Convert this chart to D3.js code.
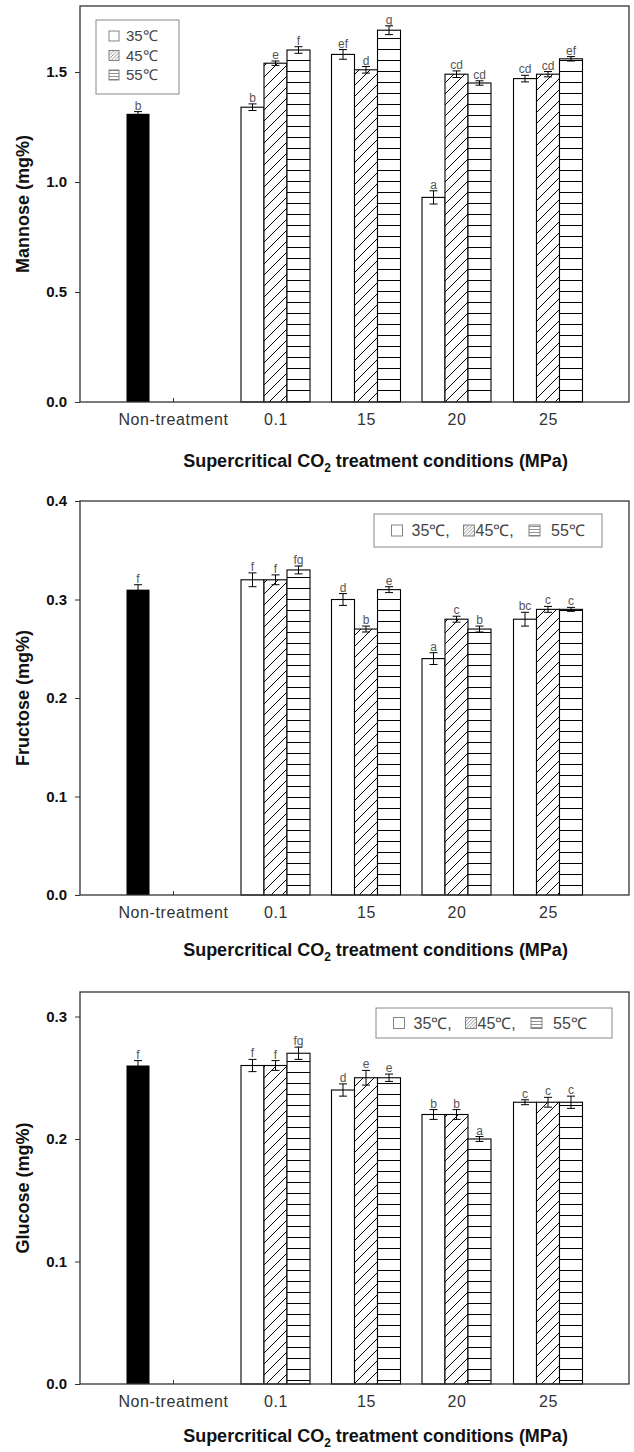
<!DOCTYPE html>
<html>
<head>
<meta charset="utf-8">
<title>Supercritical CO2 - sugar contents</title>
<script src="https://d3js.org/d3.v7.min.js"></script>
<style>
body{ margin:0; background:#fff; }
svg{ display:block; font-family:"Liberation Sans", Arial, sans-serif; }
.y-axis text{ font-size:15px; font-weight:bold; fill:#111; }
.x-axis text{ font-size:16px; fill:#333; letter-spacing:0.6px; }
.axis-title{ font-size:18px; font-weight:bold; fill:#111; }
.letter{ font-size:12px; fill:#555; text-anchor:middle; }
.legend text{ font-size:15px; fill:#444; }
</style>
</head>
<body>
<svg id="chart" width="634" height="1452"></svg>
<script>
// ---- data ----
var categories = ["Non-treatment", "0.1", "15", "20", "25"];
var treatments = ["0.1", "15", "20", "25"];
var series = ["35℃", "45℃", "55℃"];

// Mannose (mg%)
var mannoseCtrl = 1.31, mannoseCtrlErr = 0.01, mannoseCtrlLetter = "b";
var mannose35 = [1.34, 1.58, 0.93, 1.47];
var mannose45 = [1.54, 1.51, 1.49, 1.49];
var mannose55 = [1.60, 1.69, 1.45, 1.56];
var mannoseErr35 = [0.015, 0.022, 0.03, 0.015];
var mannoseErr45 = [0.01, 0.015, 0.015, 0.012];
var mannoseErr55 = [0.015, 0.02, 0.01, 0.01];
var mannoseLet35 = ["b", "ef", "a", "cd"];
var mannoseLet45 = ["e", "d", "cd", "cd"];
var mannoseLet55 = ["f", "g", "cd", "ef"];

// Fructose (mg%)
var fructoseCtrl = 0.31, fructoseCtrlErr = 0.005, fructoseCtrlLetter = "f";
var fructose35 = [0.32, 0.30, 0.24, 0.28];
var fructose45 = [0.32, 0.27, 0.28, 0.29];
var fructose55 = [0.33, 0.31, 0.27, 0.29];
var fructoseErr35 = [0.007, 0.006, 0.006, 0.007];
var fructoseErr45 = [0.005, 0.003, 0.003, 0.003];
var fructoseErr55 = [0.004, 0.003, 0.003, 0.002];
var fructoseLet35 = ["f", "d", "a", "bc"];
var fructoseLet45 = ["f", "b", "c", "c"];
var fructoseLet55 = ["fg", "e", "b", "c"];

// Glucose (mg%)
var glucoseCtrl = 0.26, glucoseCtrlErr = 0.004, glucoseCtrlLetter = "f";
var glucose35 = [0.26, 0.24, 0.22, 0.23];
var glucose45 = [0.26, 0.25, 0.22, 0.23];
var glucose55 = [0.27, 0.25, 0.20, 0.23];
var glucoseErr35 = [0.005, 0.005, 0.004, 0.002];
var glucoseErr45 = [0.004, 0.006, 0.004, 0.004];
var glucoseErr55 = [0.005, 0.003, 0.002, 0.005];
var glucoseLet35 = ["f", "d", "b", "c"];
var glucoseLet45 = ["f", "e", "b", "c"];
var glucoseLet55 = ["fg", "e", "a", "c"];

var mannoseTicks = [0, 0.5, 1.0, 1.5];
var fructoseTicks = [0, 0.1, 0.2, 0.3, 0.4];
var glucoseTicks = [0, 0.1, 0.2, 0.3];

// ---- layout ----
var left = 80, right = 629;
var panels = [
  { title: "Mannose (mg%)", top: 6, bottom: 402, max: 1.8, ticks: mannoseTicks, legend: "stack", titleOff: 65,
    ctrl: mannoseCtrl, ctrlErr: mannoseCtrlErr, ctrlLetter: mannoseCtrlLetter,
    vals: [mannose35, mannose45, mannose55], errs: [mannoseErr35, mannoseErr45, mannoseErr55],
    lets: [mannoseLet35, mannoseLet45, mannoseLet55] },
  { title: "Fructose (mg%)", top: 501, bottom: 895, max: 0.4, ticks: fructoseTicks, legend: "inline", titleOff: 61,
    box: [374, 514, 228, 33],
    ctrl: fructoseCtrl, ctrlErr: fructoseCtrlErr, ctrlLetter: fructoseCtrlLetter,
    vals: [fructose35, fructose45, fructose55], errs: [fructoseErr35, fructoseErr45, fructoseErr55],
    lets: [fructoseLet35, fructoseLet45, fructoseLet55] },
  { title: "Glucose (mg%)", top: 992, bottom: 1384, max: 0.32, ticks: glucoseTicks, legend: "inline", titleOff: 58,
    box: [376, 1008, 236, 30],
    ctrl: glucoseCtrl, ctrlErr: glucoseCtrlErr, ctrlLetter: glucoseCtrlLetter,
    vals: [glucose35, glucose45, glucose55], errs: [glucoseErr35, glucoseErr45, glucoseErr55],
    lets: [glucoseLet35, glucoseLet45, glucoseLet55] }
];

var svg = d3.select("#chart");

// category positions on the x axis
var x = d3.scaleOrdinal().domain(categories).range([173, 275.5, 366, 456.5, 548]);
// bars inside a group
var sub = d3.scaleBand().domain(series).range([-34.5, 34.5]);
var fills = ["#fff", "url(#diag)", "url(#horiz)"];
var swatchFills = ["#fff", "url(#diagS)", "url(#horizS)"];

// hatch patterns
var defs = svg.append("defs");
var pd = defs.append("pattern").attr("id", "diag").attr("patternUnits", "userSpaceOnUse")
  .attr("width", 11).attr("height", 11);
pd.append("rect").attr("width", 11).attr("height", 11).attr("fill", "#fff");
pd.append("path").attr("d", "M-1,1 L1,-1 M0,11 L11,0 M10,12 L12,10")
  .attr("stroke", "#000").attr("stroke-width", 1);
var ph = defs.append("pattern").attr("id", "horiz").attr("patternUnits", "userSpaceOnUse")
  .attr("width", 11).attr("height", 11);
ph.append("rect").attr("width", 11).attr("height", 11).attr("fill", "#fff");
ph.append("path").attr("d", "M0,5.5 H11").attr("stroke", "#000").attr("stroke-width", 1);
var pds = defs.append("pattern").attr("id", "diagS").attr("patternUnits", "userSpaceOnUse")
  .attr("width", 3.5).attr("height", 3.5);
pds.append("rect").attr("width", 3.5).attr("height", 3.5).attr("fill", "#fff");
pds.append("path").attr("d", "M-1,1 L1,-1 M0,3.5 L3.5,0 M2.5,4.5 L4.5,2.5")
  .attr("stroke", "#777").attr("stroke-width", 0.8);
var phs = defs.append("pattern").attr("id", "horizS").attr("patternUnits", "userSpaceOnUse")
  .attr("width", 3).attr("height", 3);
phs.append("rect").attr("width", 3).attr("height", 3).attr("fill", "#fff");
phs.append("path").attr("d", "M0,1.5 H3").attr("stroke", "#777").attr("stroke-width", 0.8);

panels.forEach(function(p){
  var y = d3.scaleLinear().domain([0, p.max]).range([p.bottom, p.top]);
  var g = svg.append("g");

  // x ticks (inward) and labels
  var xAxis = d3.axisBottom(x).tickValues(categories).tickSize(-4).tickPadding(12);
  var xg = g.append("g").attr("class", "x-axis")
    .attr("transform", "translate(0," + p.bottom + ")").call(xAxis);
  xg.select(".domain").remove();
  xg.selectAll("line").attr("stroke", "#333");

  // bars
  var rows = [];
  treatments.forEach(function(t, i){
    series.forEach(function(s, k){
      rows.push({ cat: t, s: s, k: k, v: p.vals[k][i], e: p.errs[k][i], l: p.lets[k][i] });
    });
  });

  g.selectAll(".bar").data(rows).enter().append("rect")
    .attr("class", "bar")
    .attr("x", function(d){ return x(d.cat) + sub(d.s); })
    .attr("y", function(d){ return y(d.v); })
    .attr("width", sub.bandwidth())
    .attr("height", function(d){ return y(0) - y(d.v); })
    .attr("fill", function(d){ return fills[d.k]; })
    .attr("stroke", "#000").attr("stroke-width", 1.1);

  // control bar (black)
  var ctrlX = x("Non-treatment") - 35;
  g.append("rect")
    .attr("x", ctrlX - sub.bandwidth() / 2).attr("y", y(p.ctrl))
    .attr("width", sub.bandwidth()).attr("height", y(0) - y(p.ctrl))
    .attr("fill", "#000");

  var errRows = rows.map(function(d){
    return { cx: x(d.cat) + sub(d.s) + sub.bandwidth() / 2, v: d.v, e: d.e, l: d.l };
  });
  errRows.push({ cx: ctrlX, v: p.ctrl, e: p.ctrlErr, l: p.ctrlLetter });

  var eg = g.selectAll(".err").data(errRows).enter().append("g").attr("class", "err")
    .attr("stroke", "#000").attr("stroke-width", 1);
  eg.append("line")
    .attr("x1", function(d){ return d.cx; }).attr("x2", function(d){ return d.cx; })
    .attr("y1", function(d){ return y(d.v - d.e); }).attr("y2", function(d){ return y(d.v + d.e); });
  eg.append("line")
    .attr("x1", function(d){ return d.cx - 4; }).attr("x2", function(d){ return d.cx + 4; })
    .attr("y1", function(d){ return y(d.v + d.e); }).attr("y2", function(d){ return y(d.v + d.e); });
  eg.append("line")
    .attr("x1", function(d){ return d.cx - 4; }).attr("x2", function(d){ return d.cx + 4; })
    .attr("y1", function(d){ return y(d.v - d.e); }).attr("y2", function(d){ return y(d.v - d.e); });

  g.selectAll(".letter").data(errRows).enter().append("text")
    .attr("class", "letter")
    .attr("x", function(d){ return d.cx; })
    .attr("y", function(d){ return y(d.v + d.e) - 2; })
    .text(function(d){ return d.l; });

  // y axis
  var yAxis = d3.axisLeft(y).tickValues(p.ticks).tickFormat(d3.format(".1f"))
    .tickSize(5).tickPadding(8).tickSizeOuter(0);
  var yg = g.append("g").attr("class", "y-axis")
    .attr("transform", "translate(" + left + ",0)").call(yAxis);
  yg.select(".domain").remove();
  yg.selectAll("line").attr("stroke", "#333");

  // frame
  g.append("rect").attr("x", left).attr("y", p.top)
    .attr("width", right - left).attr("height", p.bottom - p.top)
    .attr("fill", "none").attr("stroke", "#333").attr("stroke-width", 1.3);

  // axis titles
  g.append("text").attr("class", "axis-title")
    .attr("transform", "translate(23," + ((p.top + p.bottom) / 2) + ") rotate(-90)")
    .attr("text-anchor", "middle").attr("dy", "0.35em")
    .text(p.title);

  var xt = g.append("text").attr("class", "axis-title")
    .attr("x", 375.5).attr("y", p.bottom + p.titleOff).attr("text-anchor", "middle");
  xt.append("tspan").text("Supercritical CO");
  xt.append("tspan").attr("dy", 5).style("font-size", "12px").text("2");
  xt.append("tspan").attr("dy", -5).text(" treatment conditions (MPa)");

  // legend
  var lg = g.append("g").attr("class", "legend");
  if (p.legend === "stack") {
    lg.append("rect").attr("x", 96).attr("y", 20).attr("width", 83).attr("height", 74)
      .attr("fill", "#fff").attr("stroke", "#888").attr("stroke-width", 1);
    series.forEach(function(s, k){
      var cy = 36 + k * 19.5;
      lg.append("rect").attr("x", 109).attr("y", cy - 5).attr("width", 10).attr("height", 10)
        .attr("fill", swatchFills[k]).attr("stroke", "#777").attr("stroke-width", 0.9);
      lg.append("text").attr("x", 126).attr("y", cy).attr("dy", "0.35em").text(s);
    });
  } else {
    var b = p.box;
    lg.append("rect").attr("x", b[0]).attr("y", b[1]).attr("width", b[2]).attr("height", b[3])
      .attr("fill", "#fff").attr("stroke", "#888").attr("stroke-width", 1);
    var cy = b[1] + b[3] / 2;
    var sx = [17.5, 89.5, 155];
    var tx = [37.5, 101.5, 177];
    var labels = [series[0] + ",", series[1] + ",", series[2]];
    series.forEach(function(s, k){
      lg.append("rect").attr("x", b[0] + sx[k]).attr("y", cy - 5.5).attr("width", 11).attr("height", 11)
        .attr("fill", swatchFills[k]).attr("stroke", "#777").attr("stroke-width", 0.9);
      lg.append("text").attr("x", b[0] + tx[k]).attr("y", cy).attr("dy", "0.35em")
        .style("font-size", "16px").text(labels[k]);
    });
  }
});
</script>
</body>
</html>
